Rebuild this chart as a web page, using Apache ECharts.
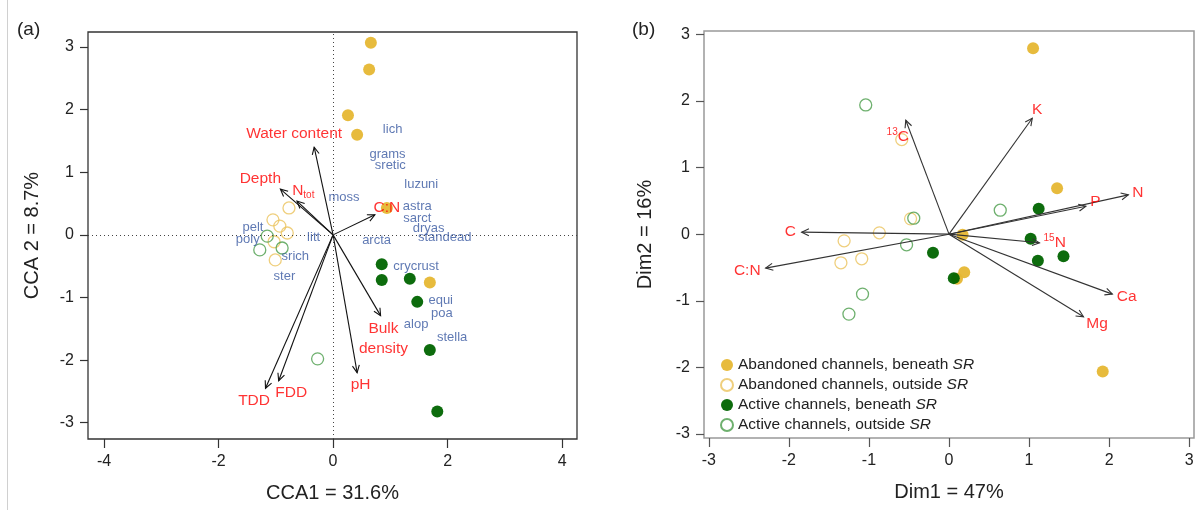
<!DOCTYPE html>
<html>
<head>
<meta charset="utf-8">
<script src="https://cdn.jsdelivr.net/npm/echarts@6/dist/echarts.min.js"></script>
<style>
  html, body { margin: 0; padding: 0; background: #fff; }
  #chart { width: 1203px; height: 510px; }
</style>
</head>
<body>
<div id="chart"></div>
<script>
// ---- panel (a): CCA ----
var aAbBeneathX = [0.66, 0.63, 0.26, 0.42, 0.94, 1.69]
var aAbBeneathY = [3.07, 2.64, 1.91, 1.60, 0.43, -0.76]
var aAbOutsideX = [-0.77, -1.05, -0.93, -0.80, -1.03, -1.01]
var aAbOutsideY = [0.43, 0.24, 0.14, 0.03, -0.11, -0.40]
var aActBeneathX = [0.85, 0.85, 1.34, 1.47, 1.69, 1.82]
var aActBeneathY = [-0.47, -0.72, -0.70, -1.07, -1.84, -2.82]
var aActOutsideX = [-1.15, -1.28, -0.89, -0.27]
var aActOutsideY = [-0.02, -0.24, -0.21, -1.98]

var aEnvNames = ['Water content', 'Depth', '{n|N}{s|tot}', 'C:N', 'TDD', 'FDD', 'pH', 'Bulk\ndensity']
var aEnvX = [-0.33, -0.92, -0.63, 0.73, -1.18, -0.95, 0.42, 0.83]
var aEnvY = [1.40, 0.73, 0.54, 0.32, -2.45, -2.33, -2.20, -1.29]
var aEnvLabelX = [-0.68, -1.27, -0.52, 0.94, -1.38, -0.73, 0.48, 0.88]
var aEnvLabelY = [1.61, 0.90, 0.71, 0.44, -2.65, -2.52, -2.39, -1.66]

var aSpecies = ['lich', 'grams', 'sretic', 'luzuni', 'moss', 'astra', 'sarct', 'dryas', 'standead', 'arcta',
  'litt', 'pelt', 'poly', 'srich', 'ster', 'crycrust', 'equi', 'poa', 'alop', 'stella']
var aSpeciesX = [1.04, 0.95, 1.00, 1.54, 0.19, 1.47, 1.47, 1.67, 1.95, 0.76,
  -0.34, -1.40, -1.49, -0.66, -0.85, 1.45, 1.88, 1.90, 1.45, 2.08]
var aSpeciesY = [1.69, 1.28, 1.11, 0.80, 0.60, 0.45, 0.26, 0.11, -0.04, -0.09,
  -0.04, 0.12, -0.08, -0.34, -0.67, -0.51, -1.05, -1.25, -1.43, -1.64]

var aTicksX = [-4, -2, 0, 2, 4]
var aTicksY = [-3, -2, -1, 0, 1, 2, 3]

// ---- panel (b): PCA ----
var bAbBeneathX = [1.05, 1.35, 0.17, 0.19, 0.10, 1.92]
var bAbBeneathY = [2.79, 0.69, -0.01, -0.57, -0.67, -2.06]
var bAbOutsideX = [-1.31, -0.87, -1.35, -1.09, -0.48, -0.59]
var bAbOutsideY = [-0.10, 0.02, -0.43, -0.37, 0.23, 1.42]
var bActBeneathX = [1.12, 1.02, 1.11, 1.43, -0.20, 0.06]
var bActBeneathY = [0.38, -0.07, -0.40, -0.33, -0.28, -0.66]
var bActOutsideX = [-1.04, -0.44, -0.53, -1.08, -1.25, 0.64]
var bActOutsideY = [1.94, 0.24, -0.16, -0.90, -1.20, 0.36]

var bVarNames = ['{sup|13}{n|C}', 'K', 'N', 'P', '{sup|15}{n|N}', 'Ca', 'Mg', 'C', 'C:N']
var bVarX = [-0.54, 1.04, 2.24, 1.71, 1.13, 2.04, 1.68, -1.84, -2.29]
var bVarY = [1.71, 1.74, 0.59, 0.42, -0.13, -0.90, -1.24, 0.03, -0.51]
var bVarLabelX = [-0.64, 1.10, 2.36, 1.83, 1.32, 2.22, 1.85, -1.98, -2.52]
var bVarLabelY = [1.46, 1.87, 0.62, 0.49, -0.13, -0.94, -1.34, 0.04, -0.55]

var bTicksX = [-3, -2, -1, 0, 1, 2, 3]
var bTicksY = [-3, -2, -1, 0, 1, 2, 3]

var groupNames = [
  'Abandoned channels, beneath SR',
  'Abandoned channels, outside SR',
  'Active channels, beneath SR',
  'Active channels, outside SR'
]

var FONT = 'Liberation Sans, Arial, sans-serif'
var RED = '#ff0000'
var BLUE = '#3758a0'
var YELLOW = '#e6b733'
var GREEN = '#006400'

function pairs(xs, ys) {
  return xs.map(function (x, i) { return [x, ys[i]] })
}

function pointSeries(name, idx, xs, ys, filled, color) {
  return {
    name: name,
    type: 'scatter',
    xAxisIndex: idx,
    yAxisIndex: idx,
    symbol: 'circle',
    symbolSize: 12,
    itemStyle: filled
      ? { color: color, opacity: 0.95 }
      : { color: 'rgba(255,255,255,0)', borderColor: color, borderWidth: 1.3 },
    z: 2,
    data: pairs(xs, ys)
  }
}

function arrowSeries(idx, xs, ys, color) {
  return {
    type: 'custom',
    xAxisIndex: idx,
    yAxisIndex: idx,
    silent: true,
    z: 3,
    clip: false,
    data: pairs(xs, ys),
    renderItem: function (params, api) {
      var o = api.coord([0, 0])
      var p = api.coord([api.value(0), api.value(1)])
      var a = Math.atan2(p[1] - o[1], p[0] - o[0])
      var L = 8, w = Math.PI / 7
      return {
        type: 'group',
        children: [
          { type: 'line', shape: { x1: o[0], y1: o[1], x2: p[0], y2: p[1] },
            style: { stroke: color, lineWidth: 1.1 } },
          { type: 'polyline',
            shape: { points: [
              [p[0] - L * Math.cos(a - w), p[1] - L * Math.sin(a - w)],
              [p[0], p[1]],
              [p[0] - L * Math.cos(a + w), p[1] - L * Math.sin(a + w)]
            ] },
            style: { stroke: color, fill: null, lineWidth: 1.1 } }
        ]
      }
    }
  }
}

function labelSeries(idx, xs, ys, texts, color, size) {
  return {
    type: 'scatter',
    xAxisIndex: idx,
    yAxisIndex: idx,
    symbolSize: 1,
    silent: true,
    z: 5,
    itemStyle: { color: 'rgba(0,0,0,0)' },
    label: {
      show: true,
      position: 'inside',
      color: color,
      fontSize: size,
      fontFamily: FONT,
      lineHeight: 20,
      formatter: function (p) { return texts[p.dataIndex] },
      rich: {
        n: { fontSize: size, color: color, fontFamily: FONT },
        s: { fontSize: 10, color: color, fontFamily: FONT, verticalAlign: 'bottom', padding: [10, 0, 0, 0] },
        sup: { fontSize: 10, color: color, fontFamily: FONT, verticalAlign: 'top', padding: [0, 0, 6, 0] }
      }
    },
    data: pairs(xs, ys)
  }
}

function makeX(idx, min, max, ticks, name, tickColor) {
  return {
    gridIndex: idx, type: 'value', min: min, max: max,
    name: name, nameLocation: 'middle', nameGap: 44,
    nameTextStyle: { fontSize: 20, color: '#222', fontFamily: FONT },
    axisLine: { show: false, onZero: false },
    splitLine: { show: false },
    axisTick: { show: true, inside: false, length: 9, customValues: ticks, lineStyle: { color: tickColor, width: 1.2 } },
    axisLabel: { customValues: ticks, margin: 15, fontSize: 16, color: '#222', fontFamily: FONT }
  }
}

function makeY(idx, min, max, ticks, name, tickColor, gap) {
  return {
    gridIndex: idx, type: 'value', min: min, max: max,
    name: name, nameLocation: 'middle', nameGap: gap,
    nameTextStyle: { fontSize: 20, color: '#222', fontFamily: FONT },
    axisLine: { show: false, onZero: false },
    splitLine: { show: false },
    axisTick: { show: true, inside: false, length: 8, customValues: ticks, lineStyle: { color: tickColor, width: 1.2 } },
    axisLabel: { customValues: ticks, margin: 14, fontSize: 16, color: '#222', fontFamily: FONT }
  }
}

var chart = echarts.init(document.getElementById('chart'))

var guideSeries = {
  type: 'scatter',
  xAxisIndex: 0,
  yAxisIndex: 0,
  data: [],
  silent: true,
  markLine: {
    silent: true,
    symbol: 'none',
    label: { show: false },
    lineStyle: { type: [1, 3], color: '#444', width: 1 },
    data: [{ xAxis: 0 }, { yAxis: 0 }]
  }
}

chart.setOption({
  animation: false,
  graphic: [
    { type: 'line', shape: { x1: 7.5, y1: 0, x2: 7.5, y2: 510 }, style: { stroke: '#d0d0d0', lineWidth: 1 } },
    { type: 'text', x: 17, y: 20, style: { text: '(a)', fontSize: 19, fill: '#222', fontFamily: FONT } },
    { type: 'text', x: 632, y: 20, style: { text: '(b)', fontSize: 19, fill: '#222', fontFamily: FONT } }
  ],
  grid: [
    { left: 88, top: 32, width: 489, height: 407, show: true, borderColor: '#333', borderWidth: 1.3, outerBoundsMode: 'none' },
    { left: 704, top: 31, width: 490, height: 407, show: true, borderColor: '#999', borderWidth: 1.5, outerBoundsMode: 'none' }
  ],
  xAxis: [
    makeX(0, -4.28, 4.26, aTicksX, 'CCA1 = 31.6%', '#333'),
    makeX(1, -3.06, 3.06, bTicksX, 'Dim1 = 47%', '#555')
  ],
  yAxis: [
    makeY(0, -3.26, 3.24, aTicksY, 'CCA 2 = 8.7%', '#333', 46),
    makeY(1, -3.06, 3.05, bTicksY, 'Dim2 = 16%', '#555', 49)
  ],
  legend: {
    data: groupNames,
    orient: 'vertical',
    left: 715,
    top: 352,
    itemWidth: 12,
    itemHeight: 12,
    itemGap: 4,
    icon: 'circle',
    selectedMode: false,
    formatter: function (n) { return n.replace(' SR', ' {i|SR}') },
    textStyle: {
      fontSize: 15.5, color: '#222', fontFamily: FONT,
      rich: { i: { fontSize: 15.5, color: '#222', fontFamily: FONT, fontStyle: 'italic' } }
    }
  },
  series: [
    guideSeries,
    pointSeries('a1', 0, aAbBeneathX, aAbBeneathY, true, YELLOW),
    pointSeries('a2', 0, aAbOutsideX, aAbOutsideY, false, '#ebc35c'),
    pointSeries('a3', 0, aActBeneathX, aActBeneathY, true, GREEN),
    pointSeries('a4', 0, aActOutsideX, aActOutsideY, false, '#4a9c4a'),
    arrowSeries(0, aEnvX, aEnvY, '#111'),
    labelSeries(0, aEnvLabelX, aEnvLabelY, aEnvNames, RED, 15.5),
    labelSeries(0, aSpeciesX, aSpeciesY, aSpecies, BLUE, 13),

    pointSeries(groupNames[0], 1, bAbBeneathX, bAbBeneathY, true, YELLOW),
    pointSeries(groupNames[1], 1, bAbOutsideX, bAbOutsideY, false, '#ebc35c'),
    pointSeries(groupNames[2], 1, bActBeneathX, bActBeneathY, true, GREEN),
    pointSeries(groupNames[3], 1, bActOutsideX, bActOutsideY, false, '#4a9c4a'),
    arrowSeries(1, bVarX, bVarY, '#333'),
    labelSeries(1, bVarLabelX, bVarLabelY, bVarNames, RED, 15.5)
  ]
})
</script>
</body>
</html>
